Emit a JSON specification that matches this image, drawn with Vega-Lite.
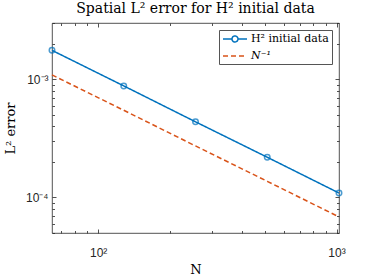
{
  "$schema": "https://vega.github.io/schema/vega-lite/v6.json",
  "autosize": "none",
  "width": 287,
  "height": 210,
  "padding": {"left": 52, "top": 23, "right": 35, "bottom": 47},
  "background": "white",
  "config": {
    "view": {"stroke": "#262626", "strokeWidth": 0.8},
    "font": "Liberation Sans"
  },
  "title": {
    "text": "Spatial L² error for H² initial data",
    "font": "DejaVu Serif",
    "fontSize": 14,
    "fontWeight": "normal",
    "color": "#000000",
    "offset": 1
  },
  "datasets": {
    "err": [
      {"N": 64, "err": 0.00176, "series": "H² initial data"},
      {"N": 128, "err": 0.00088, "series": "H² initial data"},
      {"N": 256, "err": 0.000437, "series": "H² initial data"},
      {"N": 512, "err": 0.000219, "series": "H² initial data"},
      {"N": 1024, "err": 0.000109, "series": "H² initial data"},
      {"N": 64, "err": 0.00109, "series": "N⁻¹"},
      {"N": 128, "err": 0.000547, "series": "N⁻¹"},
      {"N": 256, "err": 0.000273, "series": "N⁻¹"},
      {"N": 512, "err": 0.000137, "series": "N⁻¹"},
      {"N": 1024, "err": 0.0000684, "series": "N⁻¹"}
    ]
  },
  "data": {"name": "err"},
  "resolve": {"axis": {"x": "independent", "y": "independent"}},
  "layer": [
    {
      "mark": {"type": "line", "strokeWidth": 1.5},
      "encoding": {
        "x": {
          "field": "N", "type": "quantitative",
          "scale": {"type": "log", "domain": [64, 1024], "nice": false},
          "axis": {
            "values": [70, 80, 90, 100, 200, 300, 400, 500, 600, 700, 800, 900, 1000],
            "labelExpr": "datum.value == 100 ? '10²' : datum.value == 1000 ? '10³' : ''",
            "tickSize": {"condition": {"test": "datum.value == 100 || datum.value == 1000", "value": -4}, "value": -2.5},
            "tickWidth": 0.8, "zindex": 1,
            "grid": false, "domain": false, "labelOverlap": false, "labelFlush": false,
            "labelPadding": 18, "labelFontSize": 12, "labelColor": "#262626", "tickColor": "#262626",
            "title": "N", "titleFont": "DejaVu Serif", "titleFontSize": 13, "titleFontWeight": "normal",
            "titleColor": "#000000", "titlePadding": 4
          }
        },
        "y": {
          "field": "err", "type": "quantitative",
          "scale": {"type": "log", "domain": [0.00005, 0.003], "nice": false},
          "axis": {
            "values": [0.00005, 0.00006, 0.00007, 0.00008, 0.00009, 0.0001, 0.0002, 0.0003, 0.0004, 0.0005, 0.0006, 0.0007, 0.0008, 0.0009, 0.001, 0.002, 0.003],
            "labelExpr": "datum.value == 0.001 ? '10⁻³' : datum.value == 0.0001 ? '10⁻⁴' : ''",
            "tickSize": {"condition": {"test": "datum.value == 0.001 || datum.value == 0.0001", "value": -4}, "value": -2.5},
            "tickWidth": 0.8, "zindex": 1,
            "grid": false, "domain": false, "labelOverlap": false, "labelFlush": false,
            "labelPadding": 8, "labelFontSize": 12, "labelColor": "#262626", "tickColor": "#262626",
            "title": "L² error", "titleFont": "DejaVu Serif", "titleFontSize": 13, "titleFontWeight": "normal",
            "titleColor": "#000000", "titlePadding": 8
          }
        },
        "color": {
          "field": "series", "type": "nominal",
          "scale": {"domain": ["H² initial data", "N⁻¹"], "range": ["#0072BD", "#D95319"]},
          "legend": {
            "title": null, "orient": "top-right", "offset": 7,
            "fillColor": "white", "strokeColor": "#555555", "padding": 3,
            "labelFont": "DejaVu Serif", "labelFontSize": 11, "labelColor": "#000000",
            "symbolSize": 100, "symbolStrokeWidth": 1.5, "rowPadding": 4, "labelOffset": 17,
            "encode": {
              "symbols": {
                "update": {
                  "shape": {"signal": "datum.value == 'N⁻¹' ? 'M-1,0H3.8' : 'M-1,0H0.8A0.6,0.6 0 1,1 2,0A0.6,0.6 0 1,1 0.8,0M2,0H3.8'"},
                  "fill": {"value": "transparent"}
                }
              },
              "labels": {
                "update": {
                  "fontStyle": {"signal": "datum.value == 'N⁻¹' ? 'italic' : 'normal'"}
                }
              }
            }
          }
        },
        "strokeDash": {
          "field": "series", "type": "nominal",
          "scale": {"domain": ["H² initial data", "N⁻¹"], "range": [[1, 0], [5, 3]]},
          "legend": null
        }
      }
    },
    {
      "transform": [{"filter": "datum.series == 'H² initial data'"}],
      "mark": {"type": "point", "filled": false, "size": 30, "strokeWidth": 1.5, "color": "#0072BD"},
      "encoding": {
        "x": {"field": "N", "type": "quantitative", "axis": null},
        "y": {"field": "err", "type": "quantitative", "axis": null}
      }
    },
    {
      "mark": {"type": "point", "opacity": 0},
      "encoding": {
        "x": {
          "field": "N", "type": "quantitative",
          "axis": {
            "orient": "top",
            "values": [70, 80, 90, 100, 200, 300, 400, 500, 600, 700, 800, 900, 1000],
            "labels": false, "title": null, "grid": false, "domain": false, "zindex": 1,
            "tickSize": {"condition": {"test": "datum.value == 100 || datum.value == 1000", "value": -4}, "value": -2.5},
            "tickWidth": 0.8, "tickColor": "#262626"
          }
        },
        "y": {
          "field": "err", "type": "quantitative",
          "axis": {
            "orient": "right",
            "values": [0.00005, 0.00006, 0.00007, 0.00008, 0.00009, 0.0001, 0.0002, 0.0003, 0.0004, 0.0005, 0.0006, 0.0007, 0.0008, 0.0009, 0.001, 0.002, 0.003],
            "labels": false, "title": null, "grid": false, "domain": false, "zindex": 1,
            "tickSize": {"condition": {"test": "datum.value == 0.001 || datum.value == 0.0001", "value": -4}, "value": -2.5},
            "tickWidth": 0.8, "tickColor": "#262626"
          }
        }
      }
    }
  ]
}
